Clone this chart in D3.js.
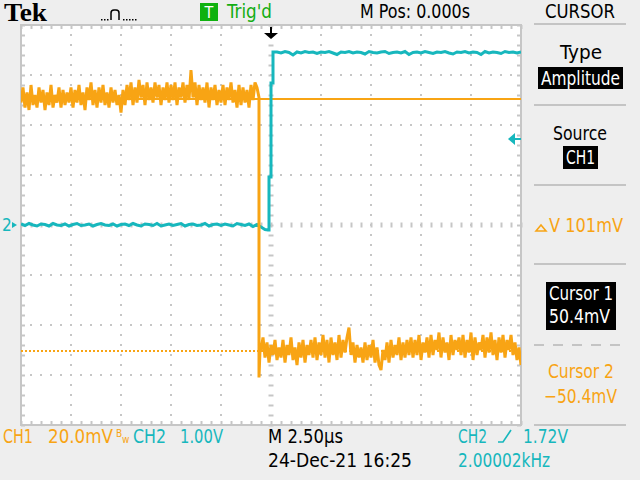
<!DOCTYPE html>
<html><head><meta charset="utf-8">
<script src="https://cdn.jsdelivr.net/npm/d3@7"></script>
<style>
html,body{margin:0;padding:0;background:#eeeeee;}
svg{display:block;}
</style></head><body>
<svg id="c" width="640" height="480"></svg>
<script>
// ---------- DATA ----------
const timeDomainUs = [-12.5, 12.5];      // 2.50 us/div, 10 div
const ch1DomainMv = [-80, 80];            // 20.0 mV/div, 8 div
const ch2DomainV = [-4, 4];               // 1.00 V/div, 8 div

const ch1StepUs = 0.1;
const ch1PreStartUs = -12.5;
const ch1PreMv = [
  49,55,47,53,46,56,48,52,47,55,49,54,46,53,48,56,47,52,49,55,47,54,48,53,49,
  55,47,54,49,56,48,53,46,55,50,57,48,54,47,55,49,56,48,53,47,55,49,54,48,52,
  45,54,48,56,50,57,48,55,49,58,51,56,48,57,50,55,49,57,51,56,48,55,50,57,49,
  56,50,57,48,55,51,57,49,56,50,62,51,57,48,56,50,55,49,57,47,55,50,56,48,54,
  49,56,48,55,50,57,49,54,47,56,48,55,49,54,47,56,50,57,55,51
];
const ch1EdgeUs = [-0.6, -0.6, -0.55];
const ch1EdgeMv = [51, -61, -50];
const ch1PostStartUs = -0.5;
const ch1PostMv = [
  -50,-45,-53,-47,-55,-48,-52,-46,-54,-49,-53,-46,-55,-48,-52,-45,-54,-49,-56,-47,-53,-46,-55,-48,-52,
  -46,-53,-45,-54,-47,-52,-44,-53,-46,-55,-45,-52,-47,-54,-44,-53,-46,-51,-45,-41,-52,-47,-55,-48,-53,
  -49,-55,-47,-54,-48,-53,-46,-55,-49,-56,-58,-50,-54,-47,-55,-46,-53,-48,-52,-45,-54,-47,-53,-46,-52,
  -45,-53,-46,-52,-44,-54,-47,-51,-45,-53,-44,-52,-46,-50,-43,-53,-45,-51,-47,-54,-44,-52,-46,-50,-45,
  -52,-44,-53,-46,-51,-43,-54,-45,-52,-47,-50,-44,-53,-45,-51,-43,-52,-46,-54,-45,-51,-44,-53,-46,-50,-44,-52,-47,-54,-49,-56
];

const ch2StepUs = 0.2;
const ch2LowStartUs = -12.5;
const ch2LowV = [
  0.02,-0.01,0.03,0.00,-0.02,0.02,0.01,-0.02,0.03,0.00,
  -0.01,0.02,-0.02,0.01,0.03,-0.01,0.00,0.02,-0.02,0.01,
  0.03,0.00,-0.01,0.02,-0.02,0.01,0.02,-0.01,0.03,0.00,
  -0.02,0.02,0.01,-0.01,0.03,-0.02,0.00,0.02,-0.01,0.01,
  0.03,-0.02,0.01,0.02,-0.01,0.00,0.03,-0.02,0.01,0.02,
  -0.01,0.02,0.00,-0.02,0.03,0.01,-0.01,0.02,-0.03,0.01,
  -0.04,-0.09
];
const ch2EdgeUs = [-0.15, -0.1, -0.1, 0.0, 0.0, 0.1, 0.1];
const ch2EdgeV = [-0.1, -0.1, 0.96, 0.96, 2.84, 2.84, 3.46];
const ch2HighStartUs = 0.3;
const ch2HighV = [
  3.46,3.44,3.47,3.45,3.40,3.46,3.44,3.47,3.45,3.46,
  3.43,3.46,3.45,3.47,3.44,3.41,3.46,3.45,3.47,3.44,
  3.46,3.45,3.42,3.47,3.45,3.44,3.46,3.47,3.43,3.45,
  3.46,3.44,3.47,3.41,3.45,3.46,3.44,3.47,3.45,3.43,
  3.46,3.45,3.47,3.44,3.42,3.46,3.45,3.47,3.44,3.46,
  3.45,3.41,3.47,3.44,3.46,3.45,3.43,3.47,3.45,3.46,
  3.44,3.46
];

const cursor1Mv = 50.4;
const cursor2Mv = -50.4;
const ch2TriggerV = 1.72;

const headerLabels = ["Tek", "Trig'd", "M Pos: 0.000s", "CURSOR"];
const menuLabels = ["Type", "Amplitude", "Source", "CH1", "V 101mV", "Cursor 1", "50.4mV", "Cursor 2", "\u221250.4mV"];
const footerLabels = ["CH1", "20.0mV", "CH2", "1.00V", "M 2.50\u03bcs", "24-Dec-21 16:25", "CH2", "1.72V", "2.00002kHz"];

// ---------- DRAW ----------
const ORANGE = "#f8a414", TEAL = "#17b7bd", GRID = "#c6c6c6";
const FONT = "'DejaVu Sans Condensed','DejaVu Sans',sans-serif";
const svg = d3.select("#c");
const L = 21, R = 521, T = 25, B = 425;
const x = d3.scaleLinear().domain(timeDomainUs).range([L, R]);
const y1 = d3.scaleLinear().domain(ch1DomainMv).range([B, T]);
const y2 = d3.scaleLinear().domain(ch2DomainV).range([B, T]);

svg.append("rect").attr("width", 640).attr("height", 480).attr("fill", "#eeeeee");
svg.append("rect").attr("x", L).attr("y", T).attr("width", R - L).attr("height", B - T).attr("fill", "#fff");

// graticule
const majorX = d3.range(-10, 10.01, 2.5).filter(v => Math.abs(v) > 1e-9);
const majorY = d3.range(-60, 60.01, 20).filter(v => Math.abs(v) > 1e-9);
const minorX = d3.range(-12.5, 12.51, 0.5);
const minorY = d3.range(-80, 80.01, 4);
const grid = svg.append("g");
grid.selectAll("line.vx").data(majorX).join("line")
  .attr("x1", d => x(d)).attr("x2", d => x(d)).attr("y1", T).attr("y2", B)
  .attr("stroke", GRID).attr("stroke-width", 2).attr("stroke-dasharray", "2 8").attr("stroke-dashoffset", 1);
grid.selectAll("line.hy").data(majorY).join("line").attr("class","hy")
  .attr("x1", L).attr("x2", R).attr("y1", d => y1(d)).attr("y2", d => y1(d))
  .attr("stroke", GRID).attr("stroke-width", 2).attr("stroke-dasharray", "2 8").attr("stroke-dashoffset", 1);

function tickAxis(axis, tx, ty) {
  const g = svg.append("g").attr("transform", `translate(${tx},${ty})`).call(axis);
  g.select(".domain").remove();
  g.selectAll(".tick line").attr("stroke", GRID).attr("stroke-width", 2);
  g.selectAll("text").remove();
  return g;
}
tickAxis(d3.axisBottom(x).tickValues(minorX).tickSize(4).tickFormat(""), 0, T);
tickAxis(d3.axisTop(x).tickValues(minorX).tickSize(4).tickFormat(""), 0, B);
tickAxis(d3.axisRight(y1).tickValues(minorY).tickSize(4).tickFormat(""), L, 0);
tickAxis(d3.axisLeft(y1).tickValues(minorY).tickSize(4).tickFormat(""), R, 0);
const cv = tickAxis(d3.axisRight(y1).tickValues(minorY).tickSize(5).tickFormat(""), x(0), 0);
cv.selectAll(".tick line").attr("x1", -2.5).attr("x2", 2.5);
const ch = tickAxis(d3.axisBottom(x).tickValues(minorX).tickSize(5).tickFormat(""), 0, y1(0));
ch.selectAll(".tick line").attr("y1", -2.5).attr("y2", 2.5);
svg.append("rect").attr("x", L).attr("y", T).attr("width", R - L).attr("height", B - T)
  .attr("fill", "none").attr("stroke", GRID).attr("stroke-width", 2);

// clip
svg.append("clipPath").attr("id", "pc").append("rect").attr("x", L).attr("y", T).attr("width", R - L).attr("height", B - T);
const plot = svg.append("g").attr("clip-path", "url(#pc)");

// cursors
plot.append("line").attr("x1", L).attr("x2", R).attr("y1", y1(cursor1Mv)).attr("y2", y1(cursor1Mv))
  .attr("stroke", ORANGE).attr("stroke-width", 2);
plot.append("line").attr("x1", L).attr("x2", R).attr("y1", y1(cursor2Mv)).attr("y2", y1(cursor2Mv))
  .attr("stroke", ORANGE).attr("stroke-width", 2).attr("stroke-dasharray", "2 2");

function series(start, step, vals) { return vals.map((v, i) => [start + i * step, v]); }
const ch1Pts = series(ch1PreStartUs, ch1StepUs, ch1PreMv)
  .concat(ch1EdgeUs.map((t, i) => [t, ch1EdgeMv[i]]))
  .concat(series(ch1PostStartUs, ch1StepUs, ch1PostMv));
const ch2Pts = series(ch2LowStartUs, ch2StepUs, ch2LowV)
  .concat(ch2EdgeUs.map((t, i) => [t, ch2EdgeV[i]]))
  .concat(series(ch2HighStartUs, ch2StepUs, ch2HighV));

plot.append("path").datum(ch2Pts)
  .attr("d", d3.line().x(d => x(d[0])).y(d => y2(d[1])))
  .attr("fill", "none").attr("stroke", TEAL).attr("stroke-width", 3).attr("stroke-linejoin", "miter");
plot.append("path").datum(ch1Pts)
  .attr("d", d3.line().x(d => x(d[0])).y(d => y1(d[1])))
  .attr("fill", "none").attr("stroke", ORANGE).attr("stroke-width", 3).attr("stroke-linejoin", "bevel");

// trigger position marker (top)
const tx0 = x(0);
svg.append("path").attr("d", `M${tx0-1},27 h2 v6 h6 l-7,6 l-7,-6 h6 z`).attr("fill", "#000");
// CH2 trigger level arrow (right)
const ty0 = y2(ch2TriggerV);
svg.append("path").attr("d", `M${R-13},${ty0} l7,-6 v5 h6 v2 h-6 v5 z`).attr("fill", TEAL);
// CH2 ground marker (left)
svg.append("text").attr("x", 2).attr("y", y2(0) + 6).style("font-family", FONT).attr("font-size", 17).attr("fill", TEAL).text("2");
svg.append("path").attr("d", `M12,${y2(0)-3} l5,3 l-5,3 z`).attr("fill", TEAL);

// generic text helper with width fitting
function txt(xx, yy, s, fill, len, anchor, size) {
  const t = svg.append("text").attr("x", xx).attr("y", yy)
    .style("font-family", FONT).attr("font-size", size || 20)
    .attr("fill", fill).attr("text-anchor", anchor || "start").text(s);
  if (len) t.attr("textLength", len).attr("lengthAdjust", "spacingAndGlyphs");
  return t;
}

// header
svg.append("text").attr("x", 4).attr("y", 21)
  .style("font-family", "'Liberation Serif','DejaVu Serif',serif")
  .attr("font-weight", "bold").attr("font-size", 26).attr("fill", "#000")
  .attr("textLength", 43).attr("lengthAdjust", "spacingAndGlyphs").text(headerLabels[0]);
const icon = svg.append("g").attr("stroke", "#000").attr("fill", "none").attr("stroke-width", 1.5);
icon.append("path").attr("d", "M111,20 V13 Q111,10 114,10 H116 Q119,10 119,13 V20");
[101,104,107,123,126,129,132,135].forEach(px => svg.append("rect").attr("x", px).attr("y", 19).attr("width", 1.5).attr("height", 1.5).attr("fill", "#000"));
svg.append("rect").attr("x", 200).attr("y", 3).attr("width", 18).attr("height", 18).attr("fill", "#0fb10f");
txt(209, 18, "T", "#fff", null, "middle", 16);
txt(227, 18, headerLabels[1], "#13ad13", 45);
txt(360, 18, headerLabels[2], "#000", 110);
txt(545, 18, headerLabels[3], "#000", 70);

// right menu
const sep = (yy, dash) => svg.append("line").attr("x1", 534).attr("x2", 626).attr("y1", yy).attr("y2", yy)
  .attr("stroke", "#c4c4c4").attr("stroke-width", 2).attr("stroke-dasharray", dash || null);
sep(24); sep(105); sep(185); sep(264); sep(345, "10 9"); sep(425);
txt(560, 59, menuLabels[0], "#000", 42);
svg.append("rect").attr("x", 538).attr("y", 67).attr("width", 85).attr("height", 22).attr("fill", "#000");
txt(541, 85, menuLabels[1], "#fff", 79);
txt(553, 140, menuLabels[2], "#000", 54);
svg.append("rect").attr("x", 563).attr("y", 146).attr("width", 35).attr("height", 23).attr("fill", "#000");
txt(566, 164, menuLabels[3], "#fff", 29);
// delta symbol
svg.append("path").attr("d", "M536,231 L541,225 L546,231 Z").attr("fill", "none").attr("stroke", ORANGE).attr("stroke-width", 1.6);
txt(549, 232, menuLabels[4], ORANGE, 74);
svg.append("rect").attr("x", 546).attr("y", 282).attr("width", 70).attr("height", 48).attr("fill", "#000");
txt(549, 300, menuLabels[5], "#fff", 64);
txt(549, 323, menuLabels[6], "#fff", 61);
txt(548, 378, menuLabels[7], ORANGE, 66);
txt(544, 403, menuLabels[8], ORANGE, 73);

// footer
txt(3, 443, footerLabels[0], ORANGE, 30);
txt(48, 443, footerLabels[1], ORANGE, 65);
txt(116, 437, "B", ORANGE, null, "start", 10);
txt(122, 443, "w", ORANGE, null, "start", 10);
txt(133, 443, footerLabels[2], TEAL, 33);
txt(180, 443, footerLabels[3], TEAL, 43);
txt(268, 443, footerLabels[4], "#000", 75);
txt(268, 467, footerLabels[5], "#000", 144);
txt(458, 443, footerLabels[6], TEAL, 29);
svg.append("path").attr("d", "M498,442 H503 L511,430").attr("fill", "none").attr("stroke", TEAL).attr("stroke-width", 1.6);
txt(523, 443, footerLabels[7], TEAL, 45);
txt(458, 467, footerLabels[8], TEAL, 92);
</script>
</body></html>
